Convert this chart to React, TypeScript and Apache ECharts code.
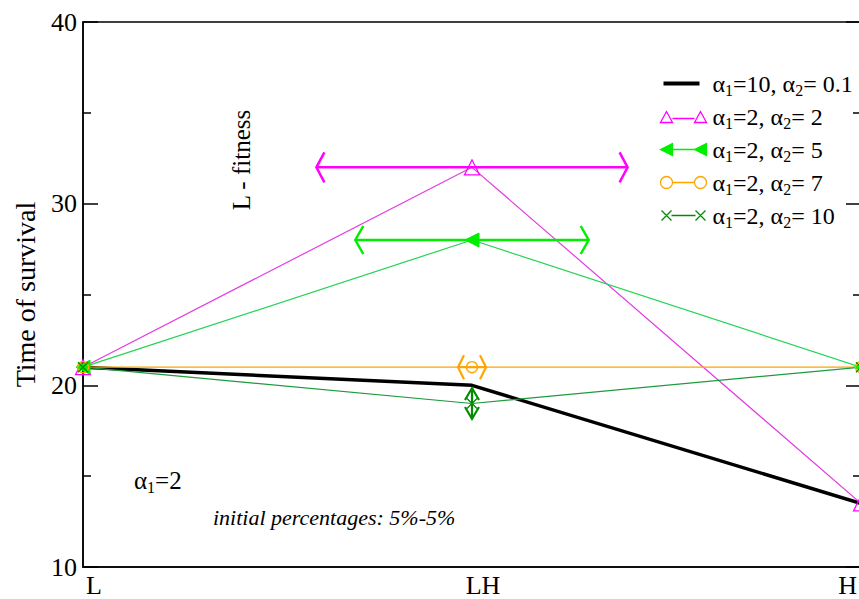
import React, { useEffect, useRef } from 'react';
import * as echarts from 'echarts';

// ---------- data ----------
const categories = ['L', 'LH', 'H'];
const xPositions = [0, 1, 2];

const seriesNames = [
  'α1=10, α2= 0.1',
  'α1=2, α2= 2',
  'α1=2, α2= 5',
  'α1=2, α2= 7',
  'α1=2, α2= 10',
];

const black_10_01 = [21, 20, 13.5];
const magenta_2_2 = [21, 32, 13.5];
const green_2_5 = [21, 28, 21];
const orange_2_7 = [21, 21, 21];
const dkgreen_2_10 = [21, 19, 21];

// error bar half-widths (x direction) / half-heights (y direction)
const magenta_2_2_errX = [0, 0.4, 0];
const green_2_5_errX = [0, 0.3, 0];
const orange_2_7_errX = [0, 0.036, 0];
const dkgreen_2_10_errY = [0, 0.85, 0];

// ---------- styles ----------
const SERIF = '"Liberation Serif", "Times New Roman", serif';
const C_BLACK = '#000000';
const C_MAG = '#ff00ff';
const C_MAG_LINE = '#e23ee2';
const C_GREEN = '#00ee00';
const C_GREEN_LINE = '#22d452';
const C_ORANGE = '#ffa500';
const C_DKGREEN = '#008b00';
const C_DKGREEN_LINE = '#1f9a3c';

const pts = (vals: number[]) => xPositions.map((x, i) => [x, vals[i]]);
const errPts = (vals: number[], errs: number[]) =>
  xPositions.map((x, i) => [x, vals[i], errs[i]]).filter((d) => d[2] > 0);

function hErr(color: string, lw: number, depth: number, half: number) {
  return (params: any, api: any) => {
    const x = api.value(0);
    const y = api.value(1);
    const e = api.value(2);
    const a = api.coord([x - e, y]);
    const b = api.coord([x + e, y]);
    const st = { stroke: color, lineWidth: lw, fill: 'none' };
    return {
      type: 'group',
      children: [
        { type: 'line', shape: { x1: a[0], y1: a[1], x2: b[0], y2: b[1] }, style: st },
        {
          type: 'polyline',
          shape: { points: [[a[0] + depth, a[1] - half], [a[0], a[1]], [a[0] + depth, a[1] + half]] },
          style: st,
        },
        {
          type: 'polyline',
          shape: { points: [[b[0] - depth, b[1] - half], [b[0], b[1]], [b[0] - depth, b[1] + half]] },
          style: st,
        },
      ],
    };
  };
}

function vErr(color: string, lw: number, depth: number, half: number) {
  return (params: any, api: any) => {
    const x = api.value(0);
    const y = api.value(1);
    const e = api.value(2);
    const a = api.coord([x, y + e]);
    const b = api.coord([x, y - e]);
    const st = { stroke: color, lineWidth: lw, fill: 'none' };
    return {
      type: 'group',
      children: [
        { type: 'line', shape: { x1: a[0], y1: a[1], x2: b[0], y2: b[1] }, style: st },
        {
          type: 'polyline',
          shape: { points: [[a[0] - half, a[1] + depth], [a[0], a[1]], [a[0] + half, a[1] + depth]] },
          style: st,
        },
        {
          type: 'polyline',
          shape: { points: [[b[0] - half, b[1] - depth], [b[0], b[1]], [b[0] + half, b[1] - depth]] },
          style: st,
        },
      ],
    };
  };
}

// legend icons (48 x 14 box)
const BOX = 'M0 0M48 14';
const icBlack = `path://${BOX}M4 5H40V9H4Z`;
const icTri = `path://${BOX}M1 13L7 2L13 13ZM35 13L41 2L47 13ZM13 9H35`;
const icLeftTri = `path://${BOX}M1 7L13 1L13 13ZM35 7L47 1L47 13ZM13 7H35`;
const icCircle = `path://${BOX}M1 7A6 6 0 1 0 13 7A6 6 0 1 0 1 7ZM35 7A6 6 0 1 0 47 7A6 6 0 1 0 35 7ZM13 7H35`;
const icCross = `path://${BOX}M2 2L12 12M2 12L12 2M36 2L46 12M36 12L46 2M12 7H36`;

const crossSymbol = 'path://M0 0L10 10M0 10L10 0';
const triSymbol = 'path://M0 10L5 0L10 10Z';

const legendRich = {
  sub: { fontFamily: SERIF, fontSize: 16, lineHeight: 15, verticalAlign: 'bottom', color: '#000' },
};

const option: any = {
  animation: false,
  backgroundColor: '#ffffff',
  grid: {
    left: 83,
    top: 22,
    width: 778,
    height: 545,
    containLabel: false,
    outerBoundsMode: 'none',
    show: true,
    borderColor: '#000',
    borderWidth: 1.5,
    backgroundColor: 'transparent',
  },
  xAxis: {
    type: 'value',
    min: 0,
    max: 2,
    interval: 1,
    axisLine: { show: true, lineStyle: { color: '#000', width: 1.5 } },
    axisTick: { show: false },
    splitLine: { show: false },
    axisLabel: {
      formatter: (v: number) => categories[Math.round(v)] ?? '',
      fontFamily: SERIF,
      fontSize: 26,
      color: '#000',
      margin: 5,
      padding: [0, 4, 0, 26],
      showMaxLabel: true,
      showMinLabel: true,
      alignMaxLabel: 'right',
    },
  },
  yAxis: [
    {
      type: 'value',
      min: 10,
      max: 40,
      interval: 10,
      name: 'Time of survival',
      nameLocation: 'middle',
      nameGap: 44,
      nameTextStyle: { fontFamily: SERIF, fontSize: 28, color: '#000' },
      axisLine: { show: true, lineStyle: { color: '#000', width: 1.5 } },
      axisTick: { show: true, inside: true, length: 15, lineStyle: { color: '#000', width: 1.5 } },
      minorTick: { show: true, splitNumber: 2, length: 8, lineStyle: { color: '#000', width: 1.5 } },
      splitLine: { show: false },
      axisLabel: { fontFamily: SERIF, fontSize: 26, color: '#000', margin: 6 },
    },
    {
      type: 'value',
      position: 'right',
      min: 10,
      max: 40,
      interval: 10,
      axisLine: { show: true, lineStyle: { color: '#000', width: 1.5 } },
      axisTick: { show: true, inside: true, length: 15, lineStyle: { color: '#000', width: 1.5 } },
      minorTick: { show: true, splitNumber: 2, length: 8, lineStyle: { color: '#000', width: 1.5 } },
      splitLine: { show: false },
      axisLabel: { show: false },
    },
  ],
  legend: {
    orient: 'vertical',
    left: 652,
    top: 64,
    itemWidth: 48,
    itemHeight: 14,
    itemGap: 4,
    selectedMode: false,
    formatter: (name: string) => name.replace(/α(\d)/g, 'α{sub|$1}'),
    textStyle: { fontFamily: SERIF, fontSize: 24, color: '#000', lineHeight: 29, rich: legendRich },
    data: [
      { name: seriesNames[0], icon: icBlack, itemStyle: { color: C_BLACK, borderWidth: 0 } },
      { name: seriesNames[1], icon: icTri, itemStyle: { color: 'none', borderColor: C_MAG, borderWidth: 1.3 } },
      { name: seriesNames[2], icon: icLeftTri, itemStyle: { color: C_GREEN, borderColor: C_GREEN, borderWidth: 1.3 } },
      { name: seriesNames[3], icon: icCircle, itemStyle: { color: 'none', borderColor: C_ORANGE, borderWidth: 1.3 } },
      { name: seriesNames[4], icon: icCross, itemStyle: { color: 'none', borderColor: C_DKGREEN, borderWidth: 1.3 } },
    ],
  },
  series: [
    {
      name: seriesNames[0],
      type: 'line',
      data: pts(black_10_01),
      showSymbol: false,
      symbol: 'none',
      lineStyle: { color: C_BLACK, width: 3.5 },
      itemStyle: { color: C_BLACK },
      z: 3,
    },
    {
      name: seriesNames[1],
      type: 'line',
      data: pts(magenta_2_2),
      symbol: triSymbol,
      symbolSize: 15,
      lineStyle: { color: C_MAG_LINE, width: 1.2 },
      itemStyle: { color: 'rgba(0,0,0,0)', borderColor: C_MAG, borderWidth: 1.3 },
      z: 3,
    },
    {
      name: seriesNames[2],
      type: 'line',
      data: pts(green_2_5),
      symbol: 'triangle',
      symbolRotate: 90,
      symbolSize: 14,
      lineStyle: { color: C_GREEN_LINE, width: 1.2 },
      itemStyle: { color: C_GREEN, borderColor: C_GREEN, borderWidth: 1 },
      z: 3,
    },
    {
      name: seriesNames[3],
      type: 'line',
      data: pts(orange_2_7),
      symbol: 'circle',
      symbolSize: 11,
      lineStyle: { color: C_ORANGE, width: 1.2 },
      itemStyle: { color: 'rgba(0,0,0,0)', borderColor: C_ORANGE, borderWidth: 1.3 },
      z: 3,
    },
    {
      name: seriesNames[4],
      type: 'line',
      data: pts(dkgreen_2_10),
      symbol: crossSymbol,
      symbolSize: 10,
      lineStyle: { color: C_DKGREEN_LINE, width: 1.2 },
      itemStyle: { color: 'rgba(0,0,0,0)', borderColor: C_DKGREEN, borderWidth: 1.3 },
      z: 3,
    },
    {
      type: 'custom',
      data: errPts(magenta_2_2, magenta_2_2_errX),
      encode: { x: 0, y: 1 },
      renderItem: hErr(C_MAG, 2.5, 8, 15),
      z: 4,
    },
    {
      type: 'custom',
      data: errPts(green_2_5, green_2_5_errX),
      encode: { x: 0, y: 1 },
      renderItem: hErr(C_GREEN, 2.5, 8, 14),
      z: 4,
    },
    {
      type: 'custom',
      data: errPts(orange_2_7, orange_2_7_errX),
      encode: { x: 0, y: 1 },
      renderItem: hErr(C_ORANGE, 2.2, 6, 12),
      z: 4,
    },
    {
      type: 'custom',
      data: errPts(dkgreen_2_10, dkgreen_2_10_errY),
      encode: { x: 0, y: 1 },
      renderItem: vErr(C_DKGREEN, 2.2, 12, 7),
      z: 4,
    },
  ],
  graphic: [
    {
      type: 'text',
      x: 241,
      y: 160,
      rotation: Math.PI / 2,
      style: {
        text: 'L - fitness',
        fontFamily: SERIF,
        fontSize: 25,
        fill: '#000',
        align: 'center',
        verticalAlign: 'middle',
      },
    },
    {
      type: 'text',
      x: 134,
      y: 480,
      style: {
        text: 'α{sub|1}=2',
        fontFamily: SERIF,
        fontSize: 25,
        lineHeight: 30,
        fill: '#000',
        align: 'left',
        verticalAlign: 'middle',
        rich: legendRich,
      },
    },
    {
      type: 'text',
      x: 213,
      y: 517,
      style: {
        text: 'initial percentages: 5%-5%',
        fontFamily: SERIF,
        fontSize: 22,
        fontStyle: 'italic',
        fill: '#000',
        align: 'left',
        verticalAlign: 'middle',
      },
    },
  ],
};

export default function App() {
  const ref = useRef<HTMLDivElement>(null);
  useEffect(() => {
    if (!ref.current) return;
    const chart = echarts.init(ref.current, null, { renderer: 'svg' });
    chart.setOption(option);
    return () => chart.dispose();
  }, []);
  return (
    <div
      ref={ref}
      style={{ position: 'absolute', left: 0, top: 0, width: 859, height: 599, background: '#fff' }}
    />
  );
}
